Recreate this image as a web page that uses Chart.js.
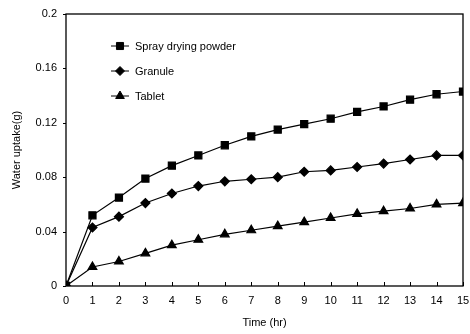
<!DOCTYPE html>
<html>
<head>
<meta charset="utf-8">
<script src="https://cdn.jsdelivr.net/npm/chart.js@4"></script>
<style>
  html, body { margin: 0; padding: 0; background: #fff; }
  #wrap { width: 470px; height: 334px; }
</style>
</head>
<body>
<div id="wrap"><canvas id="chart" width="470" height="334"></canvas></div>
<script>
const hours = [0, 1, 2, 3, 4, 5, 6, 7, 8, 9, 10, 11, 12, 13, 14, 15];
const sprayValues = [0, 0.052, 0.065, 0.079, 0.0885, 0.096, 0.1035, 0.11, 0.115, 0.119, 0.123, 0.128, 0.132, 0.137, 0.141, 0.143];
const granuleValues = [0, 0.043, 0.051, 0.061, 0.068, 0.0735, 0.077, 0.0785, 0.080, 0.084, 0.085, 0.0875, 0.090, 0.093, 0.096, 0.096];
const tabletValues = [0, 0.014, 0.018, 0.024, 0.030, 0.034, 0.038, 0.041, 0.044, 0.047, 0.050, 0.053, 0.055, 0.057, 0.060, 0.061];
const yTicks = [0, 0.04, 0.08, 0.12, 0.16, 0.2];

const FONT = "'Liberation Sans', Arial, sans-serif";

function toPoints(vals) {
    return vals.map((v, i) => ({ x: hours[i], y: v }));
}

const series = [
    { label: "Spray drying powder", data: sprayValues, style: "rect", radius: 5 },
    { label: "Granule", data: granuleValues, style: "rectRot", radius: 4.5 },
    { label: "Tablet", data: tabletValues, style: "triangle", radius: 5 }
];

// box around the plot, inward x ticks, outward y ticks, and legend inside the plot
const framePlugin = {
    id: "frame",
    afterDraw(chart) {
        const { ctx, chartArea: a, scales } = chart;
        ctx.save();
        ctx.strokeStyle = "#000";
        ctx.lineWidth = 1.3;
        ctx.strokeRect(a.left, a.top, a.right - a.left, a.bottom - a.top);

        ctx.lineWidth = 1;
        ctx.beginPath();
        hours.forEach(h => {
            const px = Math.round(scales.x.getPixelForValue(h)) + 0.5;
            ctx.moveTo(px, a.bottom);
            ctx.lineTo(px, a.bottom - 4);
        });
        yTicks.forEach(t => {
            const py = Math.round(scales.y.getPixelForValue(t)) + 0.5;
            ctx.moveTo(a.left, py);
            ctx.lineTo(a.left - 3, py);
        });
        ctx.stroke();

        // legend
        const lx = a.left + 45;
        let ly = a.top + 32;
        ctx.font = "11px " + FONT;
        ctx.textBaseline = "middle";
        ctx.fillStyle = "#000";
        series.forEach(s => {
            ctx.beginPath();
            ctx.moveTo(lx, ly);
            ctx.lineTo(lx + 18, ly);
            ctx.stroke();
            Chart.helpers.drawPoint(ctx, { pointStyle: s.style, radius: s.radius, borderWidth: 1 }, lx + 9, ly);
            ctx.fillText(s.label, lx + 24, ly + 1);
            ly += 25;
        });
        ctx.restore();
    }
};

new Chart(document.getElementById("chart"), {
    type: "line",
    data: {
        datasets: series.map(s => ({
            label: s.label,
            data: toPoints(s.data),
            borderColor: "#000",
            backgroundColor: "#000",
            borderWidth: 1.2,
            pointStyle: s.style,
            pointRadius: s.radius,
            pointBackgroundColor: "#000",
            pointBorderColor: "#000",
            tension: 0
        }))
    },
    options: {
        responsive: false,
        animation: false,
        layout: { padding: { left: 6, right: 7, top: 14, bottom: 4 } },
        plugins: { legend: { display: false }, tooltip: { enabled: false } },
        scales: {
            x: {
                type: "linear",
                min: 0,
                max: 15,
                afterBuildTicks(scale) {
                    scale.ticks = hours.map(h => ({ value: h }));
                },
                afterFit(scale) {
                    scale.height = 44;
                    scale.paddingRight = 0;
                },
                grid: { display: false, drawTicks: false },
                border: { display: false },
                ticks: { color: "#000", font: { family: FONT, size: 11 }, padding: 8, maxRotation: 0 },
                title: { display: true, text: "Time (hr)", color: "#000", font: { family: FONT, size: 11 }, padding: { top: 4, bottom: 0 } }
            },
            y: {
                min: 0,
                max: 0.2,
                afterBuildTicks(scale) {
                    scale.ticks = yTicks.map(t => ({ value: t }));
                },
                afterFit(scale) {
                    scale.width = 60;
                    scale.paddingTop = 0;
                },
                grid: { display: false, drawTicks: false },
                border: { display: false },
                ticks: { color: "#000", font: { family: FONT, size: 11 }, padding: 9,
                    callback: v => String(Math.round(v * 100) / 100) },
                title: { display: true, text: "Water uptake(g)", color: "#000", font: { family: FONT, size: 11 }, padding: { bottom: 4 } }
            }
        }
    },
    plugins: [framePlugin]
});
</script>
</body>
</html>
